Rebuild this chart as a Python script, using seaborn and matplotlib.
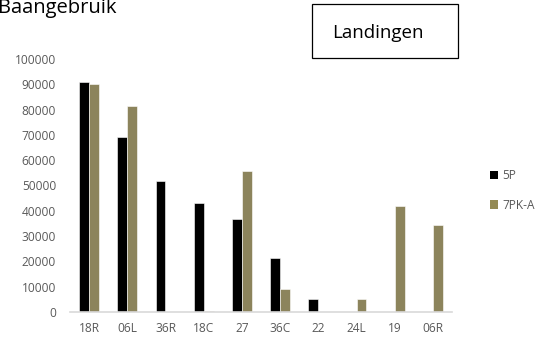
import matplotlib
matplotlib.use("Agg")
import matplotlib.pyplot as plt
import seaborn as sns
import pandas as pd
from matplotlib.patches import Patch, Rectangle

runways = ["18R", "06L", "36R", "18C", "27", "36C", "22", "24L", "19", "06R"]
series_names = ["5P", "7PK-A"]
values_5p = [91000, 69000, 51700, 43000, 36600, 21500, 5300, 0, 0, 0]
values_7pk = [90200, 81500, 0, 500, 55800, 9100, 0, 5000, 41700, 34400]
yticks = [0, 10000, 20000, 30000, 40000, 50000, 60000, 70000, 80000, 90000, 100000]
colors = ["#000000", "#948a54"]

df = pd.DataFrame({
    "runway": runways * 2,
    "serie": [series_names[0]] * len(runways) + [series_names[1]] * len(runways),
    "value": values_5p + values_7pk,
})

sns.set_style("white")
plt.rcParams["font.family"] = ["Open Sans", "DejaVu Sans"]

fig = plt.figure(figsize=(5.44, 3.38), dpi=100)
ax = fig.add_axes([70 / 544, 1 - 312 / 338, 382 / 544, 253 / 338])
sns.barplot(data=df, x="runway", y="value", hue="serie", order=runways,
            hue_order=series_names, palette=colors, width=0.52,
            edgecolor="white", linewidth=0.4, ax=ax, legend=False)

ax.set_ylim(0, 100000)
ax.set_xlim(-0.5, len(runways) - 0.5)
ax.set_yticks(yticks)
ax.set_yticklabels([str(t) for t in yticks])
ax.set_xlabel("")
ax.set_ylabel("")
for s in ["top", "right", "left"]:
    ax.spines[s].set_visible(False)
ax.spines["bottom"].set_color("#d9d9d9")
ax.spines["bottom"].set_linewidth(1.2)
ax.tick_params(axis="both", length=0, colors="#595959", labelsize=8.6)
ax.tick_params(axis="y", pad=10)
ax.tick_params(axis="x", pad=7)
ax.grid(False)

handles = [Patch(facecolor=c, edgecolor="none") for c in colors]
fig.legend(handles, series_names, loc="upper left", bbox_to_anchor=(484 / 544, 1 - 163 / 338),
           frameon=False, fontsize=8.6, labelcolor="#595959", handlelength=0.7,
           handleheight=0.7, handletextpad=0.3, labelspacing=1.4, borderpad=0)

fig.text(-0.004, 1 - 13 / 338, "Baangebruik", fontsize=14.5, ha="left", va="baseline",
         color="#000000")
fig.text(378 / 544, 1 - 33 / 338, "Landingen", fontsize=13.5, ha="center", va="center",
         color="#000000")
fig.patches.append(Rectangle((312 / 544, 1 - 58 / 338), 146 / 544, 54 / 338,
                             transform=fig.transFigure, fill=False,
                             edgecolor="#000000", linewidth=0.9))

fig.savefig("out.png", dpi=100)
